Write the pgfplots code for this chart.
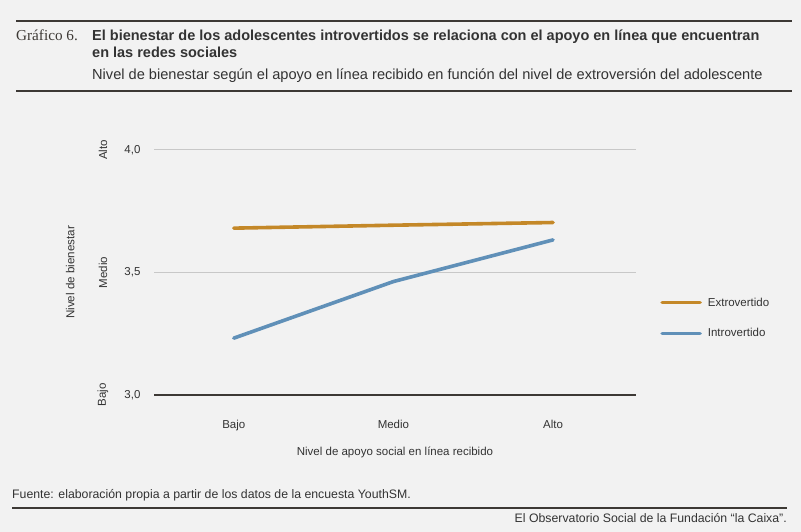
\documentclass[border=0pt]{standalone}
\usepackage{fontspec}
\setmainfont{Liberation Sans}
\newfontfamily\serif{Liberation Serif}
\newfontfamily\cond{Liberation Sans}
\usepackage{pgfplots}
\pgfplotsset{compat=1.18}
\definecolor{bg}{HTML}{F2F2F2}
\definecolor{txt}{HTML}{333333}
\definecolor{rulec}{HTML}{3D3935}
\definecolor{extro}{HTML}{C48828}
\definecolor{intro}{HTML}{6090B8}
\definecolor{gridc}{HTML}{C8C8C8}
\begin{document}
\begin{tikzpicture}[x=1bp,y=1bp]
\fill[bg] (0,0) rectangle (801,532);
\useasboundingbox (0,0) rectangle (801,532);
% header
\draw[rulec, line width=2bp] (16,511) -- (792,511);
\node[anchor=base west, inner sep=0, text=rulec] at (16,491) {\fontsize{15.2bp}{17bp}\serif Gráfico 6.};
\node[anchor=base west, inner sep=0, text=txt] at (92,491) {\fontsize{14.5bp}{17bp}\cond\bfseries El bienestar de los adolescentes introvertidos se relaciona con el apoyo en línea que encuentran};
\node[anchor=base west, inner sep=0, text=txt] at (92,474) {\fontsize{14.5bp}{17bp}\cond\bfseries en las redes sociales};
\node[anchor=base west, inner sep=0, text=txt] at (92,452) {\fontsize{14.6bp}{17bp}\cond Nivel de bienestar según el apoyo en línea recibido en función del nivel de extroversión del adolescente};
\draw[rulec, line width=2bp] (16,441) -- (792,441);
% footer
\node[anchor=base west, inner sep=0, text=txt] at (12,33) {\fontsize{12.3bp}{14bp}\cond Fuente: elaboración propia a partir de los datos de la encuesta YouthSM.};
\draw[rulec, line width=1.8bp] (12,24) -- (787,24);
\node[anchor=base east, inner sep=0, text=txt] at (787,9) {\fontsize{12.3bp}{14bp}\cond El Observatorio Social de la Fundación “la Caixa”.};
\begin{axis}[
  at={(154bp,137bp)}, anchor=south west,
  scale only axis, width=482bp, height=245bp,
  xmin=-0.5, xmax=2.52, ymin=3, ymax=4,
  xtick={0,1,2}, xticklabels={Bajo,Medio,Alto},
  ytick={3,3.5,4}, yticklabels={{3,0},{3,5},{4,0}},
  major tick length=0pt,
  axis line style={draw=none},
  ymajorgrids, grid style={gridc, line width=1bp},
  every tick label/.append style={text=txt, font=\fontsize{11.5bp}{13bp}\selectfont},
  xticklabel style={yshift=-22bp},
  yticklabel style={xshift=-10bp},
  xlabel={Nivel de apoyo social en línea recibido},
  xlabel style={at={(axis description cs:0.5,0)}, anchor=center, yshift=-57bp, text=txt, font=\fontsize{11.5bp}{13bp}\selectfont},
  ylabel={Nivel de bienestar},
  ylabel style={at={(axis description cs:-0.174,0.5)}, anchor=center, rotate=0, text=txt, font=\fontsize{11.6bp}{13bp}\selectfont},
  clip=false,
  legend style={at={(axis description cs:1.050,0.314)}, anchor=west, draw=none, fill=none, inner sep=0pt,
    font=\fontsize{11.5bp}{13bp}\selectfont, text=txt, row sep=17bp, /tikz/every even column/.append style={column sep=0pt}},
  legend cell align=left,
  legend image code/.code={\draw[#1, line cap=round] (0bp,0bp) -- (38bp,0bp);},
]
\draw[rulec, line width=1.5bp] (axis description cs:0,0) -- (axis description cs:1,0);
\addplot[extro, line width=3.6bp, line cap=round] coordinates {(0,3.681) (1,3.693) (2,3.704)};
\addlegendentry{\hspace{4bp}Extrovertido}
\addplot[intro, line width=3.6bp, line cap=round] coordinates {(0,3.232) (1,3.463) (2,3.633)};
\addlegendentry{\hspace{4bp}Introvertido}
\node[rotate=90, text=txt, font=\fontsize{11.5bp}{13bp}\selectfont] at (axis description cs:-0.106,1) {Alto};
\node[rotate=90, text=txt, font=\fontsize{11.5bp}{13bp}\selectfont] at (axis description cs:-0.106,0.5) {Medio};
\node[rotate=90, text=txt, font=\fontsize{11.5bp}{13bp}\selectfont] at (axis description cs:-0.106,0) {Bajo};
\end{axis}
\end{tikzpicture}
\end{document}
